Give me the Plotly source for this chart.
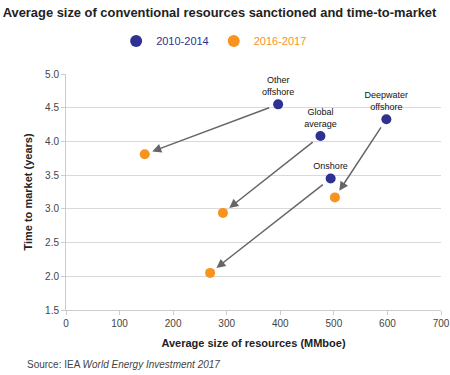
import plotly.graph_objects as go

categories = ["Other offshore", "Global average", "Deepwater offshore", "Onshore"]
labels = ["Other<br>offshore", "Global<br>average", "Deepwater<br>offshore", "Onshore"]
size_2010 = [396, 475, 598, 494]
time_2010 = [4.55, 4.08, 4.33, 3.45]
size_2016 = [147, 293, 502, 269]
time_2016 = [3.81, 2.94, 3.17, 2.05]

BLUE = "#2e3192"
ORANGE = "#f7931e"

fig = go.Figure()
fig.add_trace(go.Scatter(
    x=size_2010, y=time_2010, mode="markers+text",
    text=labels, textposition="top center",
    textfont=dict(family="Liberation Sans", size=9, color="#111"),
    marker=dict(size=10, color=BLUE),
    name=f"<span style='color:{BLUE}'>2010-2014</span>", cliponaxis=False,
))
fig.add_trace(go.Scatter(
    x=size_2016, y=time_2016, mode="markers",
    marker=dict(size=10, color=ORANGE),
    name=f"<span style='color:{ORANGE}'>2016-2017</span>",
))

for x0, y0, x1, y1 in zip(size_2010, time_2010, size_2016, time_2016):
    fig.add_annotation(
        x=x1, y=y1, ax=x0, ay=y0, xref="x", yref="y", axref="x", ayref="y",
        showarrow=True, arrowhead=2, arrowsize=1.2, arrowwidth=1.5,
        arrowcolor="#666", standoff=8, startstandoff=8, text="",
    )

fig.update_layout(
    width=450, height=375,
    margin=dict(l=66, r=9, t=74, b=65),
    paper_bgcolor="white", plot_bgcolor="white",
    font=dict(family="Liberation Sans", color="#444"),
    title=dict(
        text="<b>Average size of conventional resources sanctioned and time-to-market</b>",
        x=0.006, xanchor="left", y=0.968, yanchor="middle",
        font=dict(family="Liberation Sans", size=12.9, color="#222"),
    ),
    showlegend=True,
    legend=dict(
        orientation="h", x=0.395, xanchor="center", y=1.14, yanchor="middle",
        font=dict(size=11), itemsizing="constant",
    ),
    xaxis=dict(
        range=[0, 700], dtick=100, showgrid=False, zeroline=False,
        showline=True, linecolor="#ccc", ticks="outside", ticklen=4,
        tickcolor="#ccc", tickfont=dict(size=10, color="#444"),
        automargin=False,
        title=dict(text="<b>Average size of resources (MMboe)</b>",
                   font=dict(size=11, color="#222"), standoff=11),
    ),
    yaxis=dict(
        range=[1.5, 5.0], dtick=0.5, tickformat=".1f", showgrid=True,
        gridcolor="#d9d9d9", zeroline=False, showline=True, linecolor="#ccc",
        ticks="outside", ticklen=4, tickcolor="#ccc",
        tickfont=dict(size=10, color="#444"), automargin=False,
        title=dict(text="<b>Time to market (years)</b>",
                   font=dict(size=11, color="#222"), standoff=10),
    ),
)
fig.add_annotation(
    text="Source: IEA <i>World Energy Investment 2017</i>",
    xref="paper", yref="paper", x=-0.11, y=-0.2, xanchor="left", yanchor="top",
    showarrow=False, font=dict(size=10, color="#444"),
)

fig.write_html("out.html", config={"displayModeBar": False},
               post_script="document.body.style.margin='0';")
